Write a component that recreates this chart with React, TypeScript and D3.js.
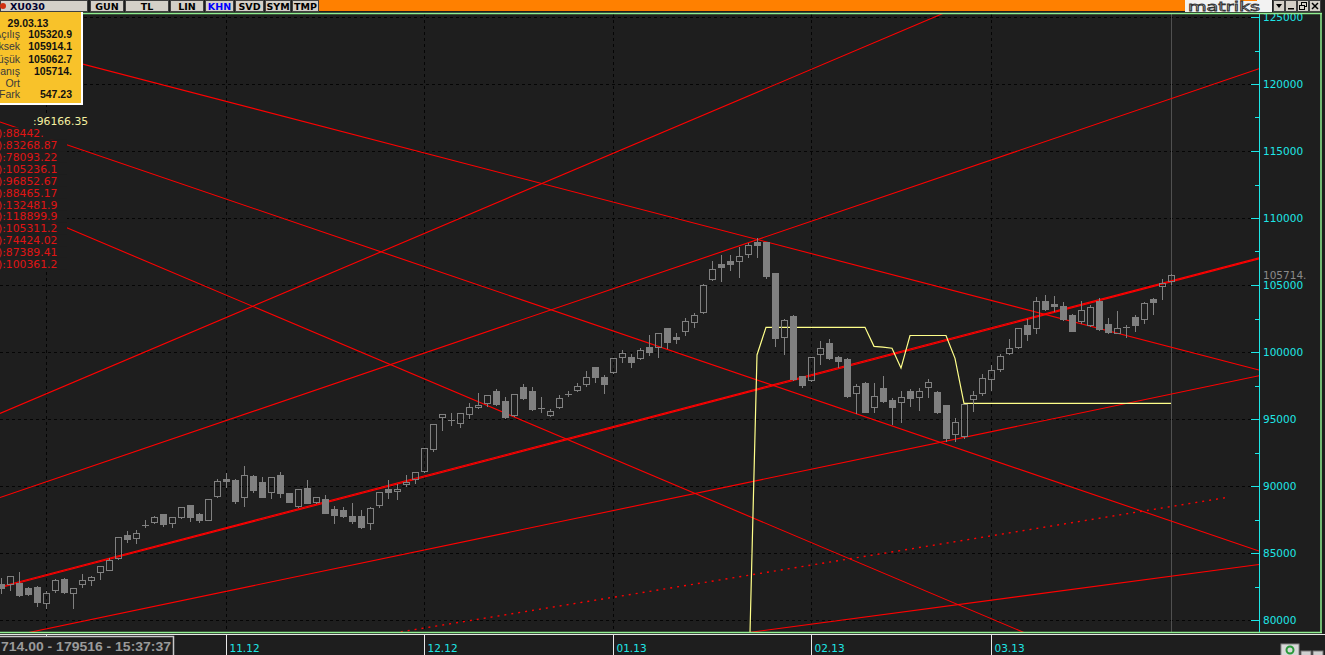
import * as d3 from "d3";

const W = 1325;
const H = 655;
const BG = "#1e1e1e";
const PLOT = { left: 0, right: 1259, top: 14, bottom: 632 };

// daily candles [open, high, low, close], 24.09.2012 .. 29.03.2013
const sep12 = [
  [82680, 83200, 82010, 82390], [82690, 83300, 82240, 83280], [82740, 83650, 81790, 81860],
  [82390, 82540, 81860, 81960], [82460, 82610, 81070, 81360],
];
const oct12 = [
  [81240, 82240, 80920, 81990], [82210, 83110, 82110, 82980], [83060, 83200, 82000, 82110],
  [81990, 82460, 80870, 82360], [82660, 83510, 82480, 82960], [82960, 83360, 82630, 83210],
  [83560, 84100, 83040, 84010], [83750, 84680, 83730, 84480], [84600, 86250, 84550, 86170],
  [86320, 86720, 85840, 86070], [86100, 86770, 85720, 86490], [87060, 87510, 86920, 87100],
  [87330, 87840, 87260, 87660], [87910, 88010, 87040, 87190], [87220, 87760, 86960, 87660],
  [87710, 88510, 87630, 88410], [88560, 88600, 87410, 87660], [87910, 88040, 87330, 87480],
  [87480, 89050, 87450, 89010], [89230, 90570, 89200, 90350],
];
const nov12 = [
  [90520, 91020, 89900, 90390], [90450, 90600, 88710, 88900], [89160, 91570, 88530, 90800],
  [90720, 90890, 89570, 89720], [90300, 90720, 89180, 89200], [89530, 90700, 89080, 90650],
  [90800, 91120, 89200, 89500], [89450, 89550, 88800, 88830], [88530, 89800, 88410, 89750],
  [89850, 90520, 88750, 88750], [88830, 89230, 88750, 89180], [89010, 89380, 88000, 88010],
  [88280, 88580, 87260, 87860], [88210, 88510, 87700, 87780], [87760, 88780, 87210, 87410],
  [87760, 88280, 86900, 86920], [87220, 88510, 86770, 88330], [88560, 89630, 88450, 89530],
  [89770, 90520, 89130, 89570], [89620, 90250, 89060, 89800], [90120, 90890, 90000, 90300],
  [90500, 91120, 90200, 91020],
];
const dec12 = [
  [91140, 92850, 91020, 92810], [92740, 94720, 92630, 94600], [95130, 95470, 94180, 95370],
  [94850, 95540, 94550, 94900], [94680, 95540, 94420, 95450], [95350, 96250, 95100, 95870],
  [95920, 96990, 95840, 96070], [96170, 96860, 95970, 96770], [97070, 97290, 96070, 96140],
  [96320, 96710, 95050, 95170], [95280, 96900, 95200, 96860], [97370, 97660, 96500, 96590],
  [97070, 97460, 95700, 95770], [95750, 96710, 95520, 95800], [95320, 95840, 95200, 95620],
  [95870, 96840, 95800, 96540], [96770, 97140, 96700, 96890], [97160, 97740, 97090, 97440],
  [97590, 98660, 97500, 98110], [98880, 98950, 97780, 98160], [98160, 98360, 96920, 97630],
];
const jan13 = [
  [98530, 99600, 98410, 99530], [99650, 100220, 99230, 99950], [99600, 99900, 98900, 99280],
  [99570, 100400, 99500, 100130], [100350, 101320, 99800, 100020], [100350, 101420, 99600, 101390],
  [101770, 101840, 100280, 100770], [101120, 101510, 100650, 100990], [101540, 102590, 101290, 102290],
  [102260, 102960, 101890, 102740], [102960, 105130, 102900, 104980], [105470, 106870, 105370, 106170],
  [106590, 107310, 105320, 106360], [106790, 107310, 106120, 106590], [106810, 107930, 105620, 107140],
  [107340, 108190, 107090, 108010], [108190, 108600, 107110, 108010], [108190, 108300, 105540, 105690],
  [105900, 106000, 100470, 101070], [101140, 102560, 99830, 102390], [102690, 102840, 97900, 97960],
  [98210, 98300, 97410, 97540],
];
const feb13 = [
  [97890, 99700, 97800, 99630], [99830, 100890, 99130, 100300], [100670, 101020, 99500, 99570],
  [99630, 99780, 98900, 99350], [99480, 99600, 96620, 96740], [96920, 97660, 95470, 97460],
  [97660, 97800, 95500, 95540], [95870, 97760, 95540, 96690], [97290, 98260, 96300, 96370],
  [96400, 96620, 94600, 95920], [96250, 97160, 94780, 96620], [97070, 97290, 96000, 96540],
  [96620, 97420, 95670, 97070], [97370, 98060, 96660, 97740], [97010, 97200, 95420, 95540],
  [96040, 96120, 93360, 93600], [93880, 95130, 93380, 94750], [93730, 96150, 93600, 96120],
  [96510, 97140, 95620, 96770], [96920, 98460, 96800, 98040],
];
const mar13 = [
  [98010, 99130, 97140, 98680], [98710, 99900, 98600, 99700], [99950, 101020, 99850, 100270],
  [100350, 101800, 100300, 101770], [101990, 102510, 100900, 101320], [101810, 104180, 101440, 103780],
  [103810, 104330, 103100, 103230], [103580, 104250, 103060, 103450], [103430, 103780, 102400, 102480],
  [102760, 102930, 101550, 101590], [102340, 103880, 102200, 103110], [102040, 103560, 101950, 103340],
  [103810, 104100, 101650, 101720], [102090, 102610, 101450, 101510], [101440, 103130, 101390, 101770],
  [101800, 102090, 101140, 101850], [102610, 102840, 101590, 102040], [102440, 103810, 102190, 103660],
  [103950, 104100, 102840, 103750], [104900, 105520, 103980, 105130], [105320.9, 105914.1, 105062.7, 105714],
];
const candles = [...sep12, ...oct12, ...nov12, ...dec12, ...jan13, ...feb13, ...mar13];
const lastIdx = candles.length - 1;

const priceTicks = [80000, 85000, 90000, 95000, 100000, 105000, 110000, 115000, 120000, 125000];
// first bar of each month; the 10.12 label sits under the status box
const monthIdx = [5, 25, 47, 68, 90, 110];
const monthLabels = ["", "11.12", "12.12", "01.13", "02.13", "03.13"];

// yellow indicator, starts at bar 83
const yellowStart = 83;
const yellowVals = [
  73130, 99780,
  101840, 101840, 101840, 101840, 101840, 101840, 101840, 101840, 101840, 101840, 101840, 101840,
  100420, 100370, 100280, 98800,
  101230, 101230, 101230, 101230, 101230, 99530,
  96166.35, 96166.35, 96166.35, 96166.35, 96166.35, 96166.35, 96166.35, 96166.35,
  96166.35, 96166.35, 96166.35, 96166.35, 96166.35, 96166.35, 96166.35, 96166.35,
  96166.35, 96166.35, 96166.35, 96166.35, 96166.35, 96166.35, 96166.35, 96166.35,
];

// trend lines: price at first bar and at last bar
const trendFirst = [82420, 82500, 95446, 89163, 78632, 71630, 74264, 123070, 117140, 111350];
const trendLast = [105236.1, 105311.2, 132481.9, 118899.9, 96852.67, 83268.87, 88465.17, 100361.2, 87389.41, 74424.02];
const trendDotted = [false, false, false, false, false, false, true, false, false, false];
const dottedEndIdx = 136;

const legendValues = ["88442.", "83268.87", "78093.22", "105236.1", "96852.67", "88465.17",
  "132481.9", "118899.9", "105311.2", "74424.02", "87389.41", "100361.2"];
const indicatorValue = "96166.35";

const infoDate = "29.03.13";
const infoLabels = ["Açılış", "Yüksek", "Düşük", "Kapanış", "Ort", "Fark"];
const infoValues = ["105320.9", "105914.1", "105062.7", "105714.", "", "547.23"];
const lastLabel = "105714.";
const statusText = "714.00 - 179516 - 15:37:37";

const toolButtons = ["GUN", "TL", "LIN", "KHN", "SVD", "SYM", "TMP"];
const toolX = [90, 125, 170, 205, 235, 265, 292];
const toolW = [33, 43, 33, 28, 28, 25, 26];

export default function App() {
  const x = d3.scaleLinear().domain([0, lastIdx]).range([1, 1171]);
  const y = d3.scaleLinear().domain([80000, 125000]).range([620, 17]);
  const px = (i: number) => Math.round(x(i)) + 0.5;
  const py = (v: number) => Math.round(y(v)) + 0.5;

  const iFrom = x.invert(PLOT.left);
  const iTo = x.invert(PLOT.right);
  const trendLine = d3.line<[number, number]>().x(d => x(d[0])).y(d => y(d[1]));
  const yellowLine = d3.line<number>().x((_, k) => x(yellowStart + k)).y(v => y(v));

  const gray = "#808080";
  const cyan = "#1ee6e6";
  const green = "#90ee90";
  const red = "#ff0000";

  return (
    <div style={{ position: "absolute", left: 0, top: 0 }}>
      <svg width={W} height={H} style={{ display: "block", background: BG, overflow: "hidden" }}>
        <defs>
          <clipPath id="plot">
            <rect x={PLOT.left} y={PLOT.top} width={PLOT.right - PLOT.left} height={PLOT.bottom - PLOT.top} />
          </clipPath>
        </defs>
        <rect width={W} height={H} fill={BG} />

        {/* grid */}
        <g stroke="#050505" strokeDasharray="3 3" shapeRendering="crispEdges">
          {priceTicks.map(p => (
            <line key={p} x1={0} x2={1251} y1={py(p)} y2={py(p)} />
          ))}
          {monthIdx.map(i => (
            <line key={i} x1={px(i)} x2={px(i)} y1={PLOT.top} y2={PLOT.bottom} />
          ))}
        </g>

        <g clipPath="url(#plot)">
          {/* cursor */}
          <line x1={px(lastIdx)} x2={px(lastIdx)} y1={PLOT.top} y2={PLOT.bottom} stroke="#505050" shapeRendering="crispEdges" />
          {/* trend lines */}
          {trendFirst.map((f, k) => {
            const l = trendLast[k];
            const pt = (i: number): [number, number] => [i, f + ((l - f) * i) / lastIdx];
            const end = trendDotted[k] ? dottedEndIdx : iTo;
            return (
              <path key={k} d={trendLine([pt(iFrom), pt(end)]) || ""} fill="none" stroke={red}
                strokeWidth={trendDotted[k] ? 1.4 : 1.1} strokeDasharray={trendDotted[k] ? "2 5" : undefined} />
            );
          })}
          {/* yellow indicator */}
          <path d={yellowLine(yellowVals) || ""} fill="none" stroke="#ffff8a" strokeWidth={1.2} />
          {/* candles */}
          {candles.map((c, i) => {
            const [o, h, l, cl] = c;
            const cx = px(i);
            const top = py(Math.max(o, cl));
            const bot = py(Math.min(o, cl));
            const up = cl >= o;
            if (bot - top < 1.5) {
              return (
                <g key={i} stroke={gray} shapeRendering="crispEdges">
                  <line x1={cx} x2={cx} y1={py(h)} y2={py(l)} />
                  <line x1={cx - 3.5} x2={cx + 3.5} y1={top} y2={top} />
                </g>
              );
            }
            return (
              <g key={i} stroke={gray} shapeRendering="crispEdges">
                <line x1={cx} x2={cx} y1={py(h)} y2={top} />
                <line x1={cx} x2={cx} y1={bot} y2={py(l)} />
                <rect x={cx - 3} y={top} width={6} height={bot - top} fill={up ? "none" : gray} />
              </g>
            );
          })}
        </g>

        {/* right axis */}
        <line x1={PLOT.right + 0.5} x2={PLOT.right + 0.5} y1={PLOT.top} y2={PLOT.bottom} stroke={cyan} />
        {priceTicks.map(p => (
          <g key={p}>
            <line x1={1251} x2={1259} y1={py(p)} y2={py(p)} stroke={cyan} />
            <text x={1263} y={y(p) + 4} fill={cyan} fontFamily="DejaVu Sans" fontSize={10.5}>{p}</text>
          </g>
        ))}
        {priceTicks.slice(0, -1).map(p => (
          <line key={p} x1={1255} x2={1259} y1={py(p + 2500)} y2={py(p + 2500)} stroke={cyan} />
        ))}
        <text x={1263} y={y(105714) + 4} fill="#8a8a8a" fontFamily="DejaVu Sans" fontSize={10.5}>{lastLabel}</text>

        {/* frame */}
        <line x1={81} x2={1322} y1={13.5} y2={13.5} stroke={green} strokeWidth={1.5} />
        <line x1={1321} x2={1321} y1={13} y2={633} stroke={green} strokeWidth={1.5} />
        <line x1={0} x2={1322} y1={632.5} y2={632.5} stroke={green} strokeWidth={1.5} />
        <line x1={0} x2={W} y1={634.5} y2={634.5} stroke="#e8e8e8" />

        {/* date axis */}
        {monthIdx.map((i, k) => (
          <g key={i}>
            <line x1={px(i)} x2={px(i)} y1={635} y2={H} stroke="#e8e8e8" />
            {monthLabels[k] && (
              <text x={px(i) + 3} y={652} fill={cyan} fontFamily="DejaVu Sans" fontSize={10.5}>{monthLabels[k]}</text>
            )}
          </g>
        ))}
        <rect x={-2} y={636.5} width={175.5} height={22} fill={BG} stroke="#c8c8c8" strokeWidth={1.5} />
        <text x={1} y={651} fill="#9a9a9a" fontFamily="Liberation Sans" fontWeight="bold" fontSize={13.5}
          textLength={170} lengthAdjust="spacingAndGlyphs">{statusText}</text>
        <rect x={1281} y={644} width={18} height={12} fill="#d8d8d8" stroke="#888" />
        <circle cx={1290} cy={650} r={3.5} fill="none" stroke="#2a9a3a" strokeWidth={2} />
        <rect x={1301} y={651} width={10} height={5} fill="#d0d0d0" stroke="#777" />
        <rect x={1313} y={651} width={10} height={5} fill="#d0d0d0" stroke="#777" />

        {/* legend of line values */}
        <rect x={31} y={114} width={60} height={12} fill={BG} />
        <text x={33} y={125} fill="#f5f0a0" fontFamily="DejaVu Sans" fontSize={10.8}>:{indicatorValue}</text>
        {legendValues.map((v, k) => {
          const cy = 133.3 + 11.88 * k;
          return (
            <g key={k}>
              <rect x={0} y={cy - 6} width={4 + (v.length + 2) * 6.3} height={12} fill={BG} />
              <text x={-2} y={cy + 4} fill="#e01414" fontFamily="DejaVu Sans" fontSize={10.8}>):{v}</text>
            </g>
          );
        })}

        {/* info box */}
        <rect x={0} y={12} width={83} height={93} fill="#ffffff" />
        <rect x={0} y={12} width={81} height={91} fill="#f8c22a" />
        <text x={28} y={26.5} textAnchor="middle" fill="#111" fontFamily="Liberation Sans" fontWeight="bold" fontSize={10.5}>{infoDate}</text>
        {infoLabels.map((lab, k) => {
          const cy = [34, 46.3, 58.7, 71, 82.7, 94.3][k];
          return (
            <g key={lab}>
              <text x={20} y={cy + 3.8} textAnchor="end" fill="#3a3a3a" fontFamily="Liberation Sans" fontSize={10.5}>{lab}</text>
              <text x={72} y={cy + 3.8} textAnchor="end" fill="#111" fontFamily="Liberation Sans" fontWeight="bold" fontSize={10.5}>{infoValues[k]}</text>
            </g>
          );
        })}

        {/* toolbar */}
        <rect x={0} y={0} width={W} height={12} fill={BG} />
        <rect x={319} y={0} width={866} height={11} fill="#ff8000" />
        <rect x={0.5} y={0.5} width={87} height={11} fill="#d4d0c8" stroke="#404040" />
        <circle cx={3} cy={6} r={3} fill="#d03010" />
        <text x={10} y={9.8} fill="#000030" fontFamily="DejaVu Sans" fontWeight="bold" fontSize={9.5}>XU030</text>
        {toolButtons.map((b, k) => (
          <g key={b}>
            <rect x={toolX[k] + 0.5} y={0.5} width={toolW[k]} height={11} fill="#d4d0c8" stroke="#404040" />
            <text x={toolX[k] + toolW[k] / 2 + 0.5} y={9.8} textAnchor="middle" fill={b === "KHN" ? "#0000ff" : "#000"}
              fontFamily="DejaVu Sans" fontWeight="bold" fontSize={9.5}>{b}</text>
          </g>
        ))}
        <rect x={1185} y={0} width={87} height={12} fill="#f2f2f2" />
        <rect x={1240} y={0} width={17} height={1} fill="#ff8000" />
        <text x={1188} y={10.5} fill="#f2f2f2" stroke="#333" strokeWidth={0.8} fontFamily="DejaVu Sans" fontSize={13}
          textLength={72} lengthAdjust="spacingAndGlyphs">matriks</text>
        {[1273, 1285, 1297, 1309].map((bx, k) => (
          <g key={bx}>
            <rect x={bx + 0.5} y={0.5} width={11} height={11} fill="#d4d0c8" stroke="#404040" />
            {k === 0 && <path d={`M${bx + 3},${4} L${bx + 9},${4} L${bx + 6},${8} Z`} fill="#000" />}
            {k === 1 && <rect x={bx + 3} y={8} width={6} height={1.5} fill="#000" />}
            {k === 2 && (
              <g fill="none" stroke="#000">
                <rect x={bx + 4.5} y={2.5} width={5} height={4} />
                <rect x={bx + 2.5} y={5.5} width={5} height={4} fill="#d4d0c8" />
              </g>
            )}
            {k === 3 && (
              <g stroke="#000" strokeWidth={1.5}>
                <line x1={bx + 3} x2={bx + 9} y1={3} y2={9} />
                <line x1={bx + 9} x2={bx + 3} y1={3} y2={9} />
              </g>
            )}
          </g>
        ))}
      </svg>
    </div>
  );
}
